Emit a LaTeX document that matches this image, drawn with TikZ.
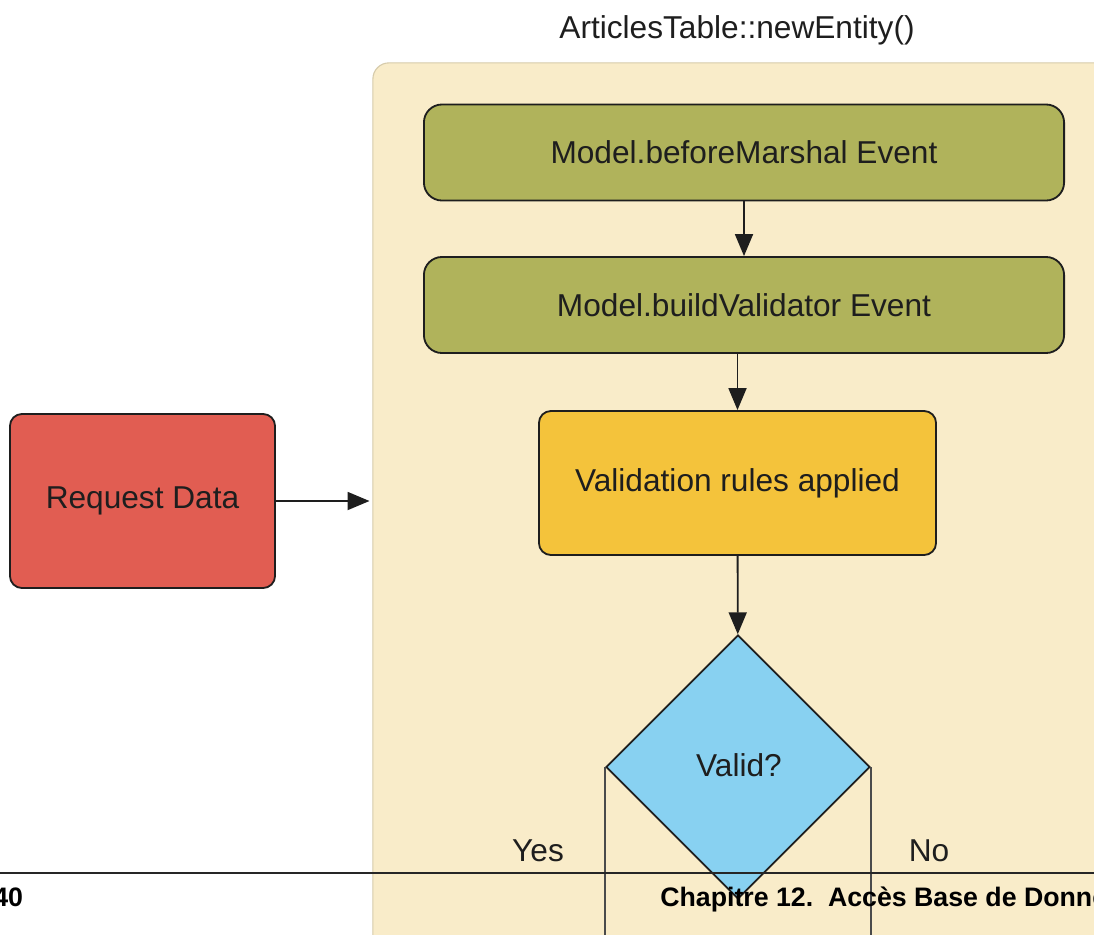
\documentclass[tikz,border=0pt]{standalone}
\usepackage{fontspec}
\setmainfont{Liberation Sans}
\usetikzlibrary{shapes.geometric, arrows.meta}

\definecolor{panelbg}{HTML}{F9ECC9}
\definecolor{panelline}{HTML}{D6CBAB}
\definecolor{eventcol}{HTML}{B0B35B}
\definecolor{rulecol}{HTML}{F4C33B}
\definecolor{validcol}{HTML}{88D1F1}
\definecolor{requestcol}{HTML}{E15D52}
\definecolor{inkcol}{HTML}{1E1E1E}

\begin{document}
\begin{tikzpicture}[x = 0.025cm, y = -0.025cm,
every node/.style={font=\fontsize{22.5}{27}\selectfont, text=inkcol},
box/.style={draw=inkcol, line width=1.3pt, rounded corners=0.3cm},
event/.style={box, fill=eventcol, rounded corners=0.45cm, minimum width=16cm, minimum height=2.4cm},
flow/.style={draw=inkcol, line width=1.3pt, -{Triangle[length=0.55cm,width=0.45cm]}},
branch/.style={draw=inkcol!80, line width=1.4pt},
footer/.style={anchor=base west, inner sep=0pt, text=black, font=\bfseries\fontsize{19}{23}\selectfont}
]
\useasboundingbox (0,0) rectangle (1094,935);
\clip (0,0) rectangle (1094,935);

\node[anchor=base] (title) at (737,38) {ArticlesTable::newEntity()};
\node[draw=panelline, fill=panelbg, line width=0.8pt, rounded corners=0.4cm, minimum width=18.925cm, minimum height=23.175cm] (panel) at (751.5,526.5) {};

\node[event] (marshal) at (744,152.5) {Model.beforeMarshal Event};
\node[event] (builder) at (744,305) {Model.buildValidator Event};
\node[box, fill=rulecol, minimum width=9.925cm, minimum height=3.6cm] (rules) at (737.5,483) {Validation rules applied};
\node[draw=inkcol, line width=1.3pt, fill=validcol, diamond, inner sep=0pt, minimum width=6.6cm, minimum height=6.6cm] (valid) at (738,767) {};
\node at (739,765) {Valid?};
\node[box, fill=requestcol, minimum width=6.625cm, minimum height=4.35cm] (request) at (142.5,501) {Request Data};

\coordinate (yesend) at (607,960);
\coordinate (noend) at (870,960);
\node[anchor=base] (yes) at (538,861) {Yes};
\node[anchor=base] (no) at (929,861) {No};

\draw[flow] (marshal) -- (builder);
\draw[flow] (builder.south -| rules.north) -- (rules.north);
\draw[flow] (rules) -- (valid);
\draw[flow, shorten >=2pt] (request) -- (request -| panel.west);
\draw[branch] (valid.west) -- (valid.west |- yesend);
\draw[branch] (valid.east) -- (valid.east |- noend);

\draw[black!85, line width=0.8pt] (0,873) -- (1094,873);
\node[footer] (pagenum) at (-7,906) {40};
\node[footer] (chapter) at (660,906) {Chapitre 12.\ \ Accès Base de Données};

\end{tikzpicture}
\end{document}
